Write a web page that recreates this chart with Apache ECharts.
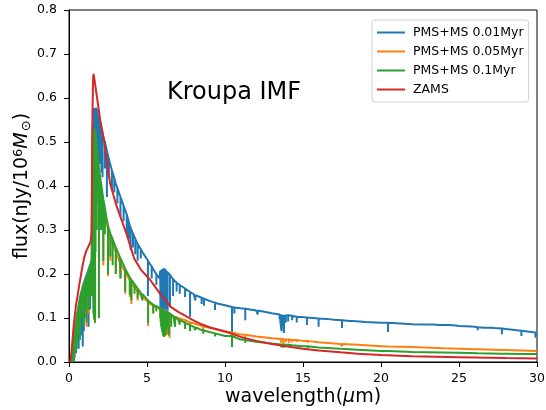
<!DOCTYPE html>
<html>
<head>
<meta charset="utf-8">
<script src="https://cdn.jsdelivr.net/npm/echarts@6/dist/echarts.min.js"></script>
<style>
    html, body {margin: 0; padding: 0; background: #fff;}
    #container {width: 546px; height: 410px;}
</style>
</head>
<body>
<div id="container"></div>
<script>
// 图例名称
let seriesNames = ['PMS+MS 0.01Myr', 'PMS+MS 0.05Myr', 'PMS+MS 0.1Myr', 'ZAMS'];
let xTicks = [0, 5, 10, 15, 20, 25, 30];
let yTicks = [0.0, 0.1, 0.2, 0.3, 0.4, 0.5, 0.6, 0.7, 0.8];

// 连续谱 [波长, 流量]
let blueCont = [[0.1,0],[0.15,0.003],[0.2,0.015],[0.25,0.03],[0.3,0.05],[0.4,0.08],[0.5,0.105],[0.6,0.125],[0.7,0.145],[0.8,0.16],[0.9,0.175],[1.0,0.185],[1.1,0.195],[1.2,0.205],[1.3,0.215],[1.4,0.225],[1.46,0.235],[1.5,0.5],[1.55,0.56],[1.6,0.575],[1.7,0.58],[1.8,0.57],[1.9,0.555],[2.0,0.54],[2.2,0.51],[2.4,0.485],[2.6,0.455],[2.8,0.43],[3.0,0.405],[3.2,0.385],[3.4,0.365],[3.6,0.345],[3.9,0.31],[4.3,0.275],[4.7,0.25],[5.1,0.228],[5.5,0.205],[5.8,0.19],[5.85,0.208],[6.0,0.212],[6.1,0.213],[6.3,0.205],[6.67,0.188],[7.0,0.178],[7.5,0.165],[8.0,0.154],[8.5,0.146],[9.0,0.139],[9.5,0.133],[10.0,0.129],[10.5,0.125],[11,0.122],[11.5,0.12],[12,0.117],[13,0.111],[14,0.106],[15,0.102],[16,0.099],[17,0.096],[18,0.093],[19,0.091],[20,0.089],[21,0.088],[22,0.086],[23,0.085],[24,0.084],[25,0.082],[26,0.08],[27,0.078],[28,0.075],[29,0.071],[30,0.067]];
let orangeCont = [[0.1,0],[0.15,0.003],[0.2,0.012],[0.25,0.025],[0.3,0.045],[0.4,0.075],[0.5,0.1],[0.6,0.12],[0.7,0.14],[0.8,0.155],[0.9,0.17],[1.0,0.18],[1.1,0.19],[1.2,0.2],[1.3,0.21],[1.4,0.22],[1.46,0.228],[1.5,0.4],[1.55,0.44],[1.62,0.46],[1.7,0.455],[1.8,0.43],[1.9,0.41],[2.0,0.39],[2.2,0.35],[2.43,0.31],[2.6,0.29],[2.82,0.268],[3.0,0.25],[3.27,0.225],[3.6,0.205],[4.1,0.176],[4.6,0.152],[5.2,0.132],[5.6,0.124],[5.85,0.12],[6.05,0.122],[6.3,0.112],[6.7,0.104],[7.0,0.1],[7.5,0.094],[8.0,0.088],[8.4,0.083],[9.0,0.078],[10.0,0.07],[10.9,0.063],[12,0.058],[13,0.054],[14,0.051],[15,0.048],[16,0.045],[17.4,0.041],[18.5,0.039],[20,0.036],[22,0.034],[24,0.031],[26,0.029],[28,0.027],[30,0.025]];
let greenCont = [[0.1,0],[0.15,0.003],[0.2,0.012],[0.25,0.025],[0.32,0.05],[0.4,0.075],[0.5,0.1],[0.6,0.122],[0.75,0.15],[0.9,0.17],[1.0,0.18],[1.2,0.2],[1.39,0.222],[1.46,0.23],[1.5,0.45],[1.55,0.5],[1.62,0.525],[1.67,0.53],[1.75,0.5],[1.85,0.46],[2.0,0.42],[2.2,0.37],[2.43,0.322],[2.6,0.298],[2.82,0.277],[3.07,0.255],[3.27,0.238],[3.6,0.212],[4.1,0.182],[4.6,0.157],[5.2,0.136],[5.6,0.127],[5.85,0.122],[6.1,0.119],[6.4,0.112],[6.7,0.104],[7.0,0.097],[7.5,0.088],[8.0,0.08],[8.4,0.074],[9.0,0.068],[10,0.059],[11,0.051],[12,0.046],[13,0.042],[14,0.039],[15,0.036],[16,0.033],[17.4,0.03],[18.5,0.028],[20,0.025],[22,0.023],[25,0.021],[28,0.019],[30,0.018]];
let redCont = [[0.08,0],[0.15,0.02],[0.2,0.04],[0.32,0.09],[0.45,0.13],[0.55,0.15],[0.64,0.172],[0.8,0.205],[0.96,0.235],[1.1,0.252],[1.25,0.263],[1.38,0.273],[1.44,0.29],[1.47,0.4],[1.5,0.55],[1.54,0.64],[1.57,0.655],[1.62,0.645],[1.7,0.625],[1.8,0.6],[1.9,0.575],[2.0,0.55],[2.24,0.505],[2.5,0.44],[2.63,0.407],[3.0,0.36],[3.3,0.33],[3.7,0.29],[4.17,0.236],[4.6,0.21],[5.2,0.187],[5.5,0.172],[5.9,0.152],[6.05,0.146],[6.1,0.148],[6.2,0.14],[6.5,0.126],[7.0,0.114],[7.5,0.104],[7.95,0.095],[8.4,0.087],[9.0,0.079],[9.7,0.072],[10.3,0.066],[11,0.057],[12,0.048],[13,0.041],[14,0.035],[15,0.03],[16,0.026],[17.4,0.022],[18.5,0.019],[20,0.016],[22,0.013],[25,0.011],[28,0.009],[30,0.008]];

// 吸收线 [波长, 连续谱, 线底]
let blueLines = [[0.22,0.02,0],[0.3,0.05,0.005],[0.36,0.065,0.01],[0.45,0.093,0.02],[0.55,0.115,0.045],[0.62,0.13,0.03],[0.7,0.145,0.08],[0.8,0.16,0.06],[0.88,0.172,0.035],[0.95,0.18,0.07],[1.05,0.19,0.1],[1.15,0.2,0.12],[1.25,0.21,0.08],[1.35,0.22,0.12],[1.52,0.53,0.2],[1.58,0.57,0.35],[1.64,0.578,0.42],[1.75,0.578,0.47],[1.82,0.567,0.5],[1.88,0.56,0.36],[1.95,0.548,0.45],[2.08,0.53,0.43],[2.15,0.52,0.42],[2.3,0.5,0.44],[2.43,0.48,0.375],[2.55,0.462,0.42],[2.75,0.436,0.39],[2.9,0.418,0.385],[3.1,0.395,0.36],[3.3,0.375,0.33],[3.5,0.355,0.32],[3.7,0.335,0.29],[3.82,0.32,0.28],[3.95,0.305,0.255],[4.1,0.292,0.26],[4.25,0.28,0.245],[4.4,0.268,0.23],[4.6,0.256,0.235],[5.06,0.23,0.15],[5.3,0.217,0.19],[5.6,0.2,0.175],[5.86,0.207,0.12],[5.89,0.208,0.1],[5.92,0.209,0.09],[5.95,0.21,0.1],[5.98,0.211,0.09],[6.01,0.212,0.11],[6.04,0.212,0.095],[6.07,0.213,0.12],[6.1,0.213,0.1],[6.13,0.212,0.11],[6.16,0.211,0.125],[6.19,0.21,0.12],[6.22,0.208,0.14],[6.25,0.207,0.13],[6.28,0.206,0.15],[6.32,0.204,0.09],[6.47,0.198,0.125],[6.67,0.188,0.15],[6.9,0.18,0.16],[7.1,0.175,0.155],[7.44,0.167,0.148],[7.76,0.159,0.103],[8.1,0.152,0.14],[8.5,0.146,0.132],[8.65,0.144,0.128],[9.36,0.135,0.118],[10.45,0.125,0.068],[10.6,0.124,0.11],[11.3,0.121,0.095],[12.1,0.117,0.108],[13.5,0.108,0.098],[13.62,0.108,0.07],[13.7,0.107,0.085],[13.78,0.107,0.066],[13.9,0.106,0.09],[14.05,0.106,0.092],[14.3,0.105,0.095],[14.6,0.103,0.09],[15.25,0.101,0.084],[16.0,0.099,0.08],[16.5,0.098,0.095],[17.5,0.095,0.077],[18.2,0.093,0.09],[20.45,0.089,0.068],[22.8,0.085,0.083],[23.3,0.085,0.083],[23.8,0.084,0.08],[24.3,0.084,0.08],[24.8,0.083,0.08],[25.5,0.081,0.078],[26.2,0.079,0.072],[26.6,0.078,0.074],[27.3,0.077,0.073],[27.75,0.076,0.063],[29.0,0.071,0.059],[29.9,0.067,0.055]];
let orangeLines = [[0.3,0.045,0],[0.45,0.088,0.03],[0.64,0.128,0.08],[0.85,0.165,0.11],[1.13,0.192,0.08],[1.28,0.207,0.11],[1.55,0.44,0.14],[1.6,0.455,0.095],[1.67,0.46,0.088],[1.92,0.405,0.1],[2.0,0.39,0.3],[2.2,0.35,0.22],[2.5,0.303,0.195],[2.65,0.285,0.23],[3.0,0.25,0.2],[3.3,0.223,0.19],[3.6,0.205,0.155],[3.9,0.186,0.148],[4.0,0.18,0.132],[4.4,0.16,0.14],[5.07,0.136,0.082],[5.4,0.128,0.11],[5.9,0.12,0.09],[6.0,0.121,0.075],[6.1,0.121,0.065],[6.2,0.117,0.06],[6.3,0.112,0.062],[6.45,0.109,0.055],[6.8,0.103,0.085],[7.44,0.095,0.08],[7.76,0.09,0.075],[8.6,0.081,0.072],[10.45,0.067,0.04],[11.3,0.062,0.055],[13.6,0.052,0.044],[13.75,0.052,0.042],[13.9,0.051,0.045],[14.1,0.051,0.044],[14.3,0.05,0.045],[14.6,0.05,0.045],[15.3,0.048,0.043],[16.0,0.045,0.041],[17.5,0.041,0.036],[20.45,0.035,0.031],[26.2,0.029,0.026],[27.75,0.027,0.023],[29,0.026,0.022]];
let greenLines = [[0.2,0.012,0],[0.26,0.027,0],[0.32,0.05,0],[0.38,0.07,0.02],[0.44,0.085,0.04],[0.5,0.1,0.03],[0.56,0.112,0.06],[0.64,0.128,0.09],[0.7,0.14,0.05],[0.78,0.155,0.1],[0.85,0.163,0.125],[0.92,0.172,0.08],[1.0,0.18,0.12],[1.06,0.186,0.14],[1.13,0.193,0.09],[1.2,0.2,0.15],[1.28,0.207,0.118],[1.34,0.215,0.15],[1.42,0.225,0.15],[1.47,0.3,0.16],[1.5,0.45,0.2],[1.53,0.48,0.15],[1.56,0.505,0.11],[1.6,0.52,0.1],[1.63,0.527,0.3],[1.67,0.53,0.09],[1.7,0.52,0.25],[1.73,0.51,0.35],[1.78,0.49,0.3],[1.85,0.46,0.38],[1.92,0.44,0.1],[2.0,0.42,0.3],[2.08,0.4,0.3],[2.2,0.37,0.23],[2.3,0.35,0.29],[2.5,0.31,0.2],[2.65,0.292,0.24],[2.8,0.279,0.22],[3.0,0.26,0.2],[3.3,0.236,0.19],[3.6,0.212,0.16],[3.9,0.192,0.152],[4.0,0.187,0.14],[4.2,0.177,0.155],[4.4,0.167,0.145],[4.7,0.155,0.14],[5.07,0.14,0.088],[5.4,0.13,0.11],[5.6,0.127,0.115],[5.85,0.122,0.1],[5.88,0.122,0.09],[5.91,0.121,0.08],[5.94,0.121,0.075],[5.97,0.12,0.07],[6.0,0.12,0.065],[6.03,0.12,0.06],[6.06,0.119,0.058],[6.09,0.119,0.057],[6.12,0.119,0.058],[6.15,0.118,0.06],[6.18,0.117,0.065],[6.21,0.116,0.07],[6.24,0.115,0.075],[6.27,0.114,0.08],[6.3,0.113,0.085],[6.33,0.113,0.09],[6.4,0.112,0.06],[6.55,0.108,0.08],[6.8,0.102,0.08],[7.1,0.096,0.085],[7.44,0.089,0.075],[7.76,0.084,0.07],[8.1,0.079,0.072],[8.6,0.072,0.064],[9.36,0.065,0.058],[10.45,0.059,0.034],[11.3,0.05,0.043],[12.1,0.046,0.042],[13.6,0.04,0.033],[13.75,0.04,0.032],[13.9,0.039,0.034],[14.1,0.039,0.034],[14.3,0.038,0.034],[15.3,0.036,0.031],[16,0.033,0.03],[17.5,0.03,0.026],[20.45,0.025,0.021],[26.2,0.02,0.017],[27.75,0.019,0.016],[29,0.018,0.014]];

let colors = ['#1f77b4', '#ff7f0e', '#2ca02c', '#d62728'];
let fontName = '"DejaVu Sans", sans-serif';

// 连续谱 + 吸收线 合并成一条折线
function buildSpectrum(cont, lines) {
    let pts = cont.map(function (p) { return [p[0], p[1]]; });
    (lines || []).forEach(function (l) {
        pts.push([l[0], l[1]], [l[0], l[2]], [l[0], l[1]]);
    });
    pts.sort(function (a, b) { return a[0] - b[0]; });
    return pts;
}

let dataList = [
    buildSpectrum(blueCont, blueLines),
    buildSpectrum(orangeCont, orangeLines),
    buildSpectrum(greenCont, greenLines),
    buildSpectrum(redCont, null)
];

let dom = document.getElementById("container");
let myChart = echarts.init(dom);
let option = {
    animation: false,
    color: colors,
    title: {
        text: 'Kroupa IMF',
        left: 162,
        top: 76,
        textStyle: {fontSize: 24, fontWeight: 'normal', color: '#000', fontFamily: fontName}
    },
    legend: {
        data: seriesNames,
        orient: 'vertical',
        left: 372,
        top: 20,
        icon: 'rect',
        itemWidth: 28,
        itemHeight: 2,
        itemGap: 6,
        padding: [6, 5, 6, 5],
        borderColor: '#d0d0d0',
        borderWidth: 1,
        borderRadius: 3,
        textStyle: {fontSize: 12.5, color: '#000', fontFamily: fontName, padding: [0, 0, 0, 3]}
    },
    grid: {
        left: 69,
        right: 9,
        top: 10,
        bottom: 48,
        containLabel: false,
        outerBoundsMode: 'none',
        show: true,
        borderColor: '#000',
        borderWidth: 1
    },
    xAxis: {
        type: 'value',
        min: xTicks[0],
        max: xTicks[xTicks.length - 1],
        interval: 5,
        name: 'wavelength({it|μ}m)',
        nameLocation: 'middle',
        nameGap: 26,
        nameMoveOverlap: false,
        nameTextStyle: {
            fontSize: 19, color: '#000', fontFamily: fontName,
            rich: {it: {fontSize: 19, fontStyle: 'italic', fontFamily: fontName}}
        },
        axisLine: {lineStyle: {color: '#000', width: 1}},
        axisTick: {length: 5, lineStyle: {color: '#000'}},
        axisLabel: {fontSize: 12.5, color: '#000', margin: 10, fontFamily: fontName},
        splitLine: {show: false}
    },
    yAxis: {
        type: 'value',
        min: yTicks[0],
        max: yTicks[yTicks.length - 1],
        interval: 0.1,
        name: 'flux(nJy/10{sup|6}{it|M}{sub|⊙})',
        nameLocation: 'middle',
        nameRotate: 90,
        nameGap: 36,
        nameMoveOverlap: false,
        nameTextStyle: {
            fontSize: 19, color: '#000', fontFamily: fontName,
            rich: {
                sup: {fontSize: 13, verticalAlign: 'top', fontFamily: fontName, padding: [0, 0, 8, 0]},
                it: {fontSize: 19, fontStyle: 'italic', fontFamily: fontName},
                sub: {fontSize: 13, verticalAlign: 'bottom', fontFamily: fontName, padding: [8, 0, 0, 1]}
            }
        },
        axisLine: {lineStyle: {color: '#000', width: 1}},
        axisTick: {length: 5, lineStyle: {color: '#000'}},
        axisLabel: {
            fontSize: 12.5, color: '#000', margin: 12, fontFamily: fontName,
            formatter: function (v) { return v.toFixed(1); }
        },
        splitLine: {show: false}
    },
    series: seriesNames.map(function (name, i) {
        return {
            name: name,
            type: 'line',
            data: dataList[i],
            showSymbol: false,
            symbol: 'none',
            clip: true,
            lineStyle: {width: 2, color: colors[i]},
            z: 2 + i
        };
    })
};
myChart.setOption(option, true);
</script>
</body>
</html>
